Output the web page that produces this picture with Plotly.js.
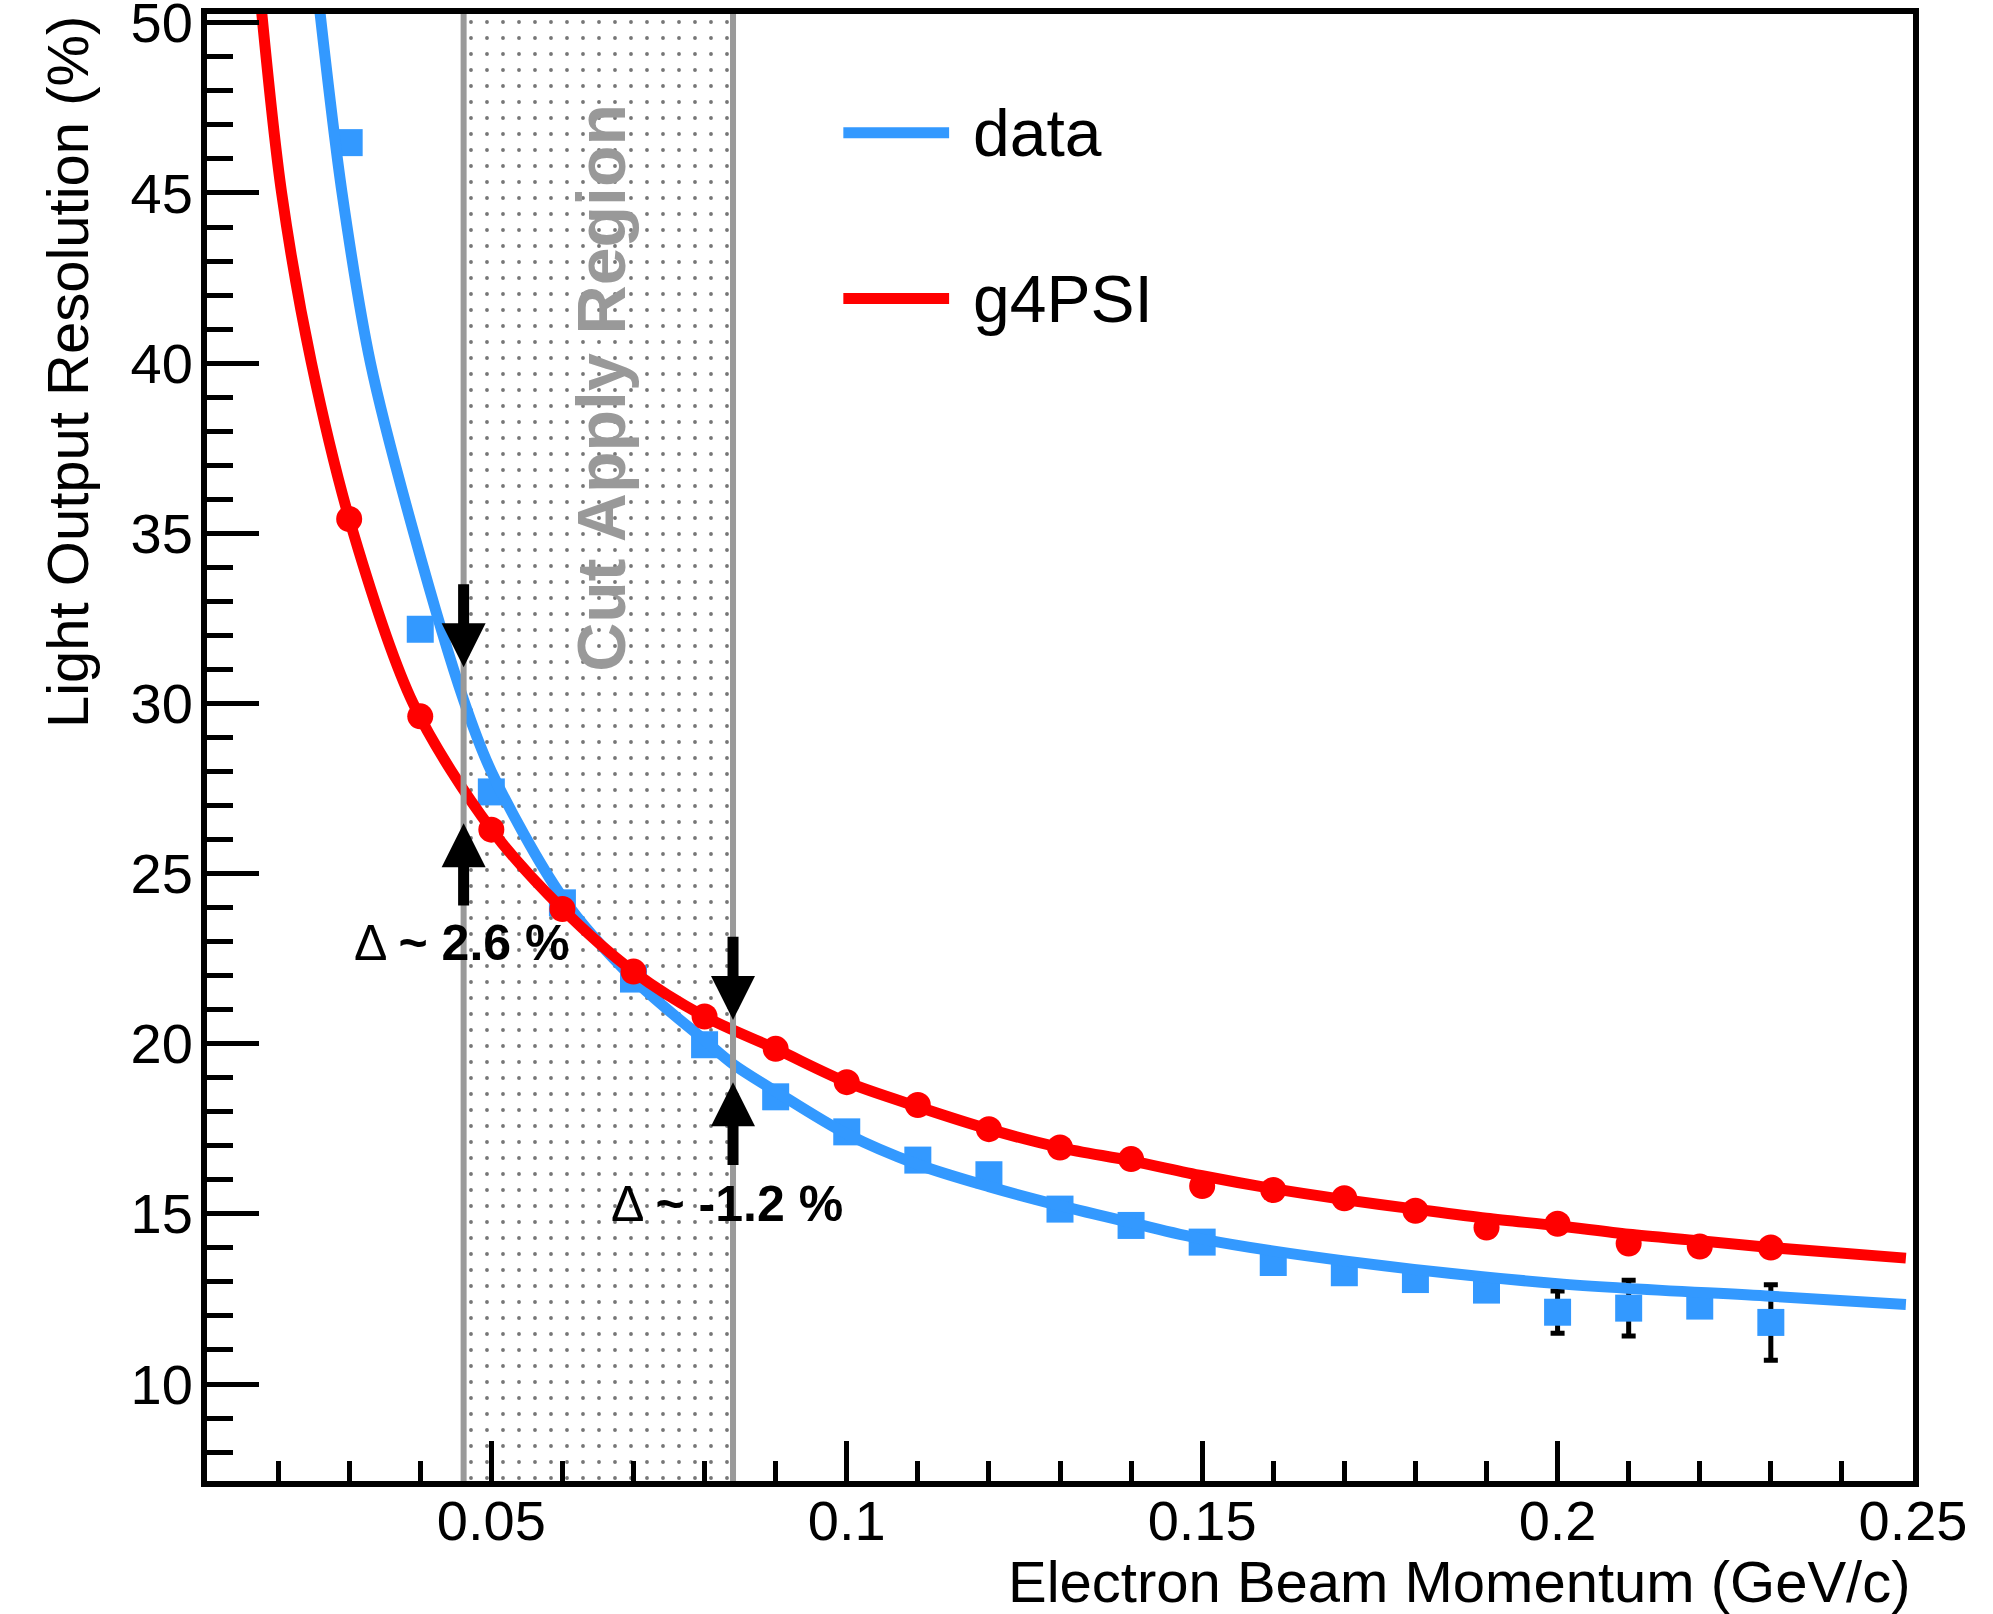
<!DOCTYPE html>
<html>
<head>
<meta charset="utf-8">
<script src="https://cdn.plot.ly/plotly-3.0.1.min.js"></script>
<style>
  html, body { margin: 0; padding: 0; background: #ffffff; }
  #chart { width: 1993px; height: 1614px; }
</style>
</head>
<body>
<div id="chart"></div>
<script>
// ---------------- data ----------------
const momentum = [0.03, 0.04, 0.05, 0.06, 0.07, 0.08, 0.09, 0.10, 0.11, 0.12, 0.13,
                  0.14, 0.15, 0.16, 0.17, 0.18, 0.19, 0.20, 0.21, 0.22, 0.23];
const dataRes = [46.48, 32.18, 27.40, 24.14, 21.90, 19.97, 18.44, 17.41, 16.58, 16.15, 15.14,
                 14.66, 14.17, 13.57, 13.27, 13.07, 12.76, 12.11, 12.23, 12.29, 11.81];
const dataErr = [0.25, 0.20, 0.20, 0.20, 0.20, 0.20, 0.20, 0.20, 0.20, 0.25, 0.20,
                 0.20, 0.20, 0.25, 0.25, 0.25, 0.28, 0.62, 0.82, 0.28, 1.11];
const simRes  = [35.42, 29.62, 26.29, 23.96, 22.12, 20.80, 19.85, 18.87, 18.20, 17.49, 16.95,
                 16.61, 15.82, 15.70, 15.46, 15.09, 14.60, 14.71, 14.13, 14.04, 14.01];

// fitted curves
const dataFitX = [0.0259, 0.0290, 0.0330, 0.0391, 0.0461, 0.0500, 0.0600, 0.0700,
                  0.0800, 0.0840, 0.0900, 0.1000, 0.1100, 0.1200, 0.1300, 0.1400, 0.1500, 0.1700,
                  0.2000, 0.2300, 0.2490];
const dataFitY = [50.30, 45.00, 40.00, 35.00, 30.10, 28.00, 24.30, 21.90,
                  20.10, 19.40, 18.60, 17.35, 16.45, 15.80, 15.24, 14.74, 14.26, 13.62,
                  12.95, 12.58, 12.34];
const simFitX  = [0.0177, 0.0205, 0.0247, 0.0306, 0.0390, 0.0500, 0.0600, 0.0700, 0.0800,
                  0.0900, 0.1000, 0.1100, 0.1200, 0.1300, 0.1400, 0.1500, 0.1600, 0.1700, 0.1800,
                  0.1900, 0.2000, 0.2100, 0.2200, 0.2300, 0.2490];
const simFitY  = [50.30, 45.00, 40.00, 35.00, 30.00, 26.30, 23.96, 22.12, 20.80,
                  19.85, 18.87, 18.15, 17.49, 16.95, 16.56, 16.12, 15.74, 15.42, 15.14,
                  14.87, 14.65, 14.40, 14.21, 14.01, 13.70];

// axis ranges and ticks
const xRange = [0.01, 0.25];
const yRange = [7.15, 50.26];
const xTickVals = [0.05, 0.1, 0.15, 0.2, 0.25];
const xTickText = ['0.05', '0.1', '0.15', '0.2', '0.25'];
const yTickVals = [10, 15, 20, 25, 30, 35, 40, 45, 50];
const yTickText = ['10', '15', '20', '25', '30', '35', '40', '45', '50'];

// cut region and the difference arrows
const cutRegion = [0.0461, 0.0840];
const arrowX    = [0.0461, 0.0461, 0.0840, 0.0840];
const arrowFrom = [33.55, 24.02, 23.19, 16.39];
const arrowTo   = [31.06, 26.48, 20.70, 18.87];
const deltaText = ['Δ <b>~ 2.6 %</b>', 'Δ <b>~ -1.2 %</b>'];
const deltaX    = [0.0458, 0.0832];
const deltaY    = [22.97, 15.29];
const regionLabel = { text: 'Cut Apply Region', x: 0.0655, y: 39.26 };

const seriesNames = ['data', 'g4PSI'];
const BLUE = '#3399ff';
const RED = '#ff0000';
const FONT = 'Liberation Sans, Arial, Helvetica, sans-serif';

// ---------------- traces ----------------
const traces = [
  {
    type: 'scatter', mode: 'lines', hoverinfo: 'skip', showlegend: false,
    x: [cutRegion[0], cutRegion[1], cutRegion[1], cutRegion[0], cutRegion[0]],
    y: [yRange[0], yRange[0], yRange[1], yRange[1], yRange[0]],
    fill: 'toself',
    fillcolor: 'rgba(255,255,255,0)',
    fillpattern: { shape: '.', fgcolor: '#767676', bgcolor: 'rgba(255,255,255,0)',
                   size: 16, solidity: 0.045, fillmode: 'replace' },
    line: { width: 0, color: 'rgba(0,0,0,0)' }
  },
  {
    type: 'scatter', mode: 'markers', name: seriesNames[0], showlegend: false,
    x: momentum, y: dataRes,
    marker: { symbol: 'square', size: 27, color: BLUE },
    error_y: { type: 'data', array: dataErr, visible: true, color: '#000000', thickness: 5, width: 7 }
  },
  {
    type: 'scatter', mode: 'lines', name: seriesNames[0], showlegend: false,
    x: dataFitX, y: dataFitY,
    line: { color: BLUE, width: 11, shape: 'spline', smoothing: 0.9 }
  },
  {
    type: 'scatter', mode: 'markers', name: seriesNames[1], showlegend: false,
    x: momentum, y: simRes,
    marker: { symbol: 'circle', size: 26, color: RED }
  },
  {
    type: 'scatter', mode: 'lines', name: seriesNames[1], showlegend: false,
    x: simFitX, y: simFitY,
    line: { color: RED, width: 11, shape: 'spline', smoothing: 0.9 }
  }
];

// ---------------- annotations ----------------
const annotations = [];
for (let i = 0; i < arrowX.length; i++) {
  annotations.push({
    x: arrowX[i], y: arrowTo[i], xref: 'x', yref: 'y',
    ax: arrowX[i], ay: arrowFrom[i], axref: 'x', ayref: 'y',
    text: '', showarrow: true, arrowhead: 2, arrowsize: 0.8, arrowwidth: 11,
    arrowcolor: '#000000', standoff: 0, startstandoff: 0
  });
}
for (let i = 0; i < deltaText.length; i++) {
  annotations.push({
    x: deltaX[i], y: deltaY[i], xref: 'x', yref: 'y', showarrow: false,
    text: deltaText[i], xanchor: 'center', yanchor: 'middle',
    font: { family: FONT, size: 50, color: '#000000' }
  });
}
annotations.push({
  x: regionLabel.x, y: regionLabel.y, xref: 'x', yref: 'y', showarrow: false,
  text: '<b>' + regionLabel.text + '</b>', textangle: -90, xanchor: 'center', yanchor: 'middle',
  font: { family: FONT, size: 68, color: '#999999' }
});
// legend text
const legendY = [0.919, 0.806];
const legendColors = [BLUE, RED];
for (let i = 0; i < seriesNames.length; i++) {
  annotations.push({
    x: 0.448, y: legendY[i], xref: 'paper', yref: 'paper', showarrow: false,
    text: seriesNames[i], xanchor: 'left', yanchor: 'middle',
    font: { family: FONT, size: 66, color: '#000000' }
  });
}
// axis titles
annotations.push({
  x: 1, y: -0.0685, xref: 'paper', yref: 'paper', showarrow: false,
  text: 'Electron Beam Momentum (GeV/c)', xanchor: 'right', yanchor: 'middle',
  font: { family: FONT, size: 58, color: '#000000' }
});
annotations.push({
  x: -0.082, y: 1.0, xref: 'paper', yref: 'paper', showarrow: false,
  text: 'Light Output Resolution (%)', textangle: -90, xanchor: 'center', yanchor: 'top',
  font: { family: FONT, size: 58, color: '#000000' }
});

// ---------------- shapes ----------------
const shapes = [
  { type: 'line', xref: 'x', yref: 'paper', x0: cutRegion[0], x1: cutRegion[0], y0: 0, y1: 1,
    line: { color: '#9a9a9a', width: 6 }, layer: 'above' },
  { type: 'line', xref: 'x', yref: 'paper', x0: cutRegion[1], x1: cutRegion[1], y0: 0, y1: 1,
    line: { color: '#9a9a9a', width: 6 }, layer: 'above' }
];
for (let i = 0; i < seriesNames.length; i++) {
  shapes.push({ type: 'line', xref: 'paper', yref: 'paper', x0: 0.373, x1: 0.435,
    y0: legendY[i], y1: legendY[i], line: { color: legendColors[i], width: 11 } });
}

const layout = {
  width: 1993, height: 1614,
  margin: { l: 207, r: 80, t: 14, b: 133, pad: 0 },
  paper_bgcolor: '#ffffff', plot_bgcolor: '#ffffff',
  showlegend: false,
  font: { family: FONT, color: '#000000' },
  xaxis: {
    range: xRange, autorange: false,
    tickmode: 'array', tickvals: xTickVals, ticktext: xTickText,
    ticks: 'inside', ticklen: 40, tickwidth: 5, tickcolor: '#000000',
    minor: { dtick: 0.01, tick0: 0, ticks: 'inside', ticklen: 20, tickwidth: 5, tickcolor: '#000000', showgrid: false },
    showline: true, linecolor: '#000000', linewidth: 6, mirror: true,
    showgrid: false, zeroline: false,
    tickfont: { family: FONT, size: 56, color: '#000000' },
    ticklabelstandoff: -14, ticklabeloverflow: 'allow'
  },
  yaxis: {
    range: yRange, autorange: false,
    tickmode: 'array', tickvals: yTickVals, ticktext: yTickText,
    ticks: 'inside', ticklen: 52, tickwidth: 5, tickcolor: '#000000',
    minor: { dtick: 1, tick0: 0, ticks: 'inside', ticklen: 26, tickwidth: 5, tickcolor: '#000000', showgrid: false },
    showline: true, linecolor: '#000000', linewidth: 6, mirror: true,
    showgrid: false, zeroline: false,
    tickfont: { family: FONT, size: 56, color: '#000000' },
    ticklabelstandoff: -3, ticklabeloverflow: 'allow'
  },
  annotations: annotations,
  shapes: shapes
};

Plotly.newPlot('chart', traces, layout, { staticPlot: true, displayModeBar: false });
</script>
</body>
</html>
